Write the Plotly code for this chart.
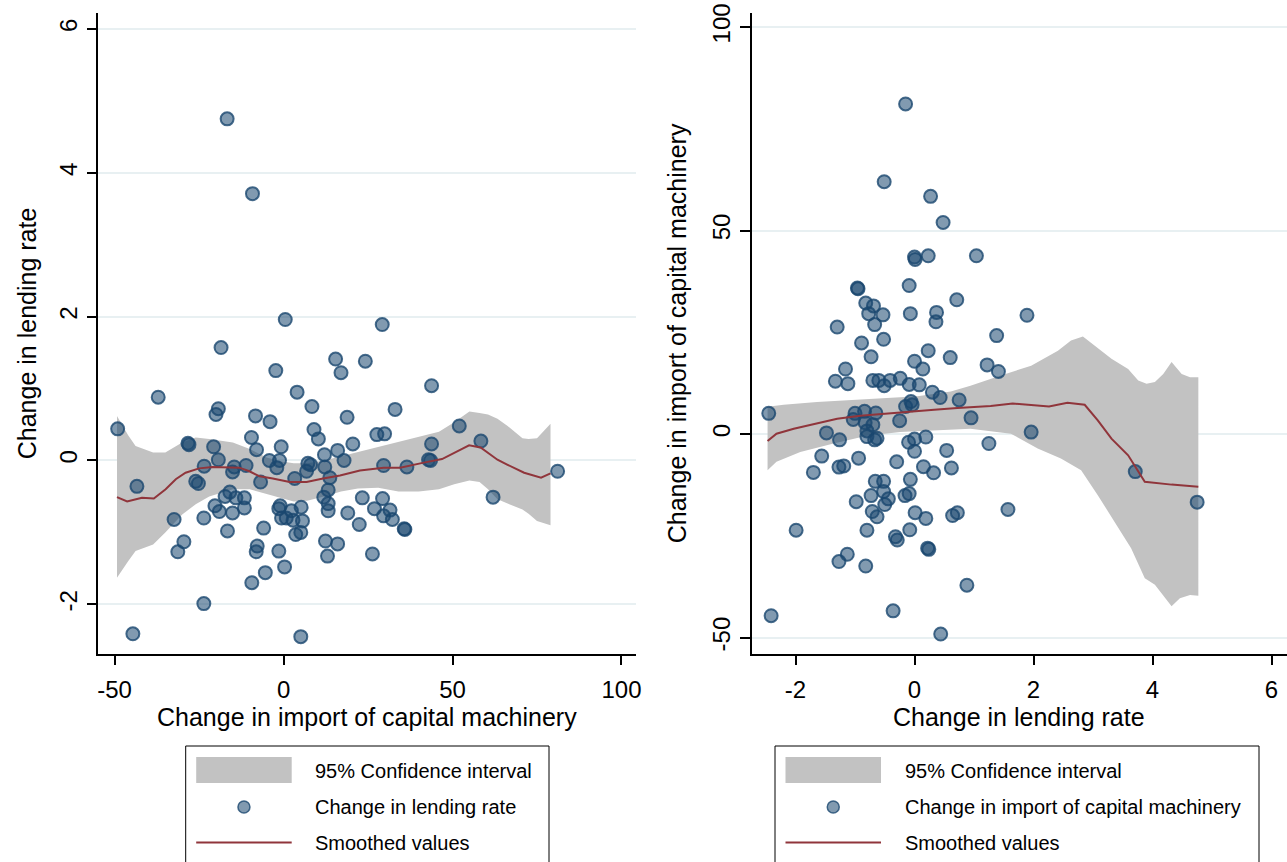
import plotly.graph_objects as go

# ---------------- data ----------------
import_change = [-49.1, -43.4, -44.6, -37.1, -32.4, -31.3, -29.5, -28.3, -28.0, -26.0,
                 -25.2, -23.5, -23.6, -23.6, -20.7, -20.0, -19.3, -19.3, -18.5, -20.3,
                 -19.0, -17.3, -16.6, -16.7, -15.9, -15.1, -14.6, -15.1, -14.1, -11.6,
                 -11.6, -11.1, -9.4, -9.5, -9.2, -8.3, -8.0, -7.8, -8.1, -6.8,
                 -5.9, -5.4, -4.0, -4.2, -2.3, -2.0, -1.2, -1.0, -1.4, -1.4,
                 -0.7, -0.6, 0.5, 0.3, 0.8, 2.3, 2.8, 3.3, 3.6, 4.0,
                 5.1, 5.2, 5.6, 5.1, 6.8, 7.2, 8.0, 8.4, 9.0, 10.3,
                 11.9, 12.1, 12.2, 12.4, 13.0, 13.2, 13.2, 13.2, 13.7, 15.4,
                 16.0, 16.0, 17.0, 17.9, 18.8, 19.0, 20.5, 22.4, 23.3, 24.2,
                 26.3, 26.9, 27.6, 29.2, 29.3, 29.6, 29.6, 29.9, 31.5, 32.2,
                 33.0, 35.7, 35.9, 36.5, 42.9, 43.5, 43.8, 43.8, 52.0, 58.4,
                 62.0, 81.1]
lending_change = [0.44, -0.36, -2.41, 0.88, -0.82, -1.27, -1.13, 0.24, 0.22, -0.29,
                  -0.32, -0.08, -0.80, -1.99, 0.19, 0.64, 0.72, 0.01, 1.57, -0.63,
                  -0.71, -0.50, -0.98, 4.75, -0.44, -0.73, -0.09, -0.16, -0.52, -0.52,
                  -0.66, -0.07, -1.70, 0.32, 3.71, 0.62, 0.15, -1.19, -1.27, -0.30,
                  -0.94, -1.56, 0.54, 0.00, 1.25, -0.10, 0.00, -0.63, -0.67, -1.26,
                  0.19, -0.80, 1.96, -1.48, -0.80, -0.70, -0.83, -0.25, -1.03, 0.95,
                  -1.00, -0.65, -0.84, -2.45, -0.15, -0.04, -0.06, 0.75, 0.43, 0.30,
                  -0.51, 0.08, -0.09, -1.12, -1.33, -0.41, -0.60, -0.70, -0.24, 1.41,
                  0.14, -1.16, 1.22, 0.00, 0.60, -0.73, 0.23, -0.89, -0.52, 1.38,
                  -1.30, -0.67, 0.36, 1.89, -0.53, -0.07, -0.77, 0.37, -0.69, -0.82,
                  0.71, -0.95, -0.96, -0.09, 0.01, 0.00, 0.23, 1.04, 0.48, 0.27,
                  -0.51, -0.15]

# left panel: smoothed lending rate on import change
smooth_l_x = [-49.3, -46.3, -41.9, -38.4, -34.9, -31.9, -29.0, -25.0, -21.0, -17.1,
              -13.1, -10.1, -7.1, -3.2, 1.8, 6.8, 11.7, 16.7, 22.6, 29.6,
              34.5, 41.5, 46.9, 52.4, 54.9, 58.3, 63.3, 66.3, 71.2, 76.2, 79.0]
smooth_l_y = [-0.51, -0.57, -0.52, -0.53, -0.40, -0.26, -0.17, -0.11, -0.09, -0.09,
              -0.10, -0.15, -0.22, -0.25, -0.30, -0.30, -0.25, -0.21, -0.14, -0.10,
              -0.10, -0.03, 0.02, 0.15, 0.21, 0.18, 0.01, -0.06, -0.17, -0.24, -0.18]
ci_l_x = [-49.3, -46.0, -43.8, -38.6, -35.0, -30.0, -26.0, -22.0, -15.0, -10.0,
          -5.0, -1.0, 3.0, 7.0, 12.0, 17.0, 22.0, 28.0, 34.0, 40.0,
          46.0, 50.5, 55.0, 58.0, 60.5, 63.3, 66.3, 70.7, 72.5, 75.0, 79.0]
ci_l_upper = [0.62, 0.35, 0.20, 0.11, 0.11, 0.25, 0.32, 0.30, 0.25, 0.16,
              0.04, -0.01, -0.04, -0.04, 0.00, 0.06, 0.12, 0.19, 0.26, 0.33,
              0.40, 0.53, 0.68, 0.66, 0.64, 0.58, 0.48, 0.31, 0.30, 0.31, 0.51]
ci_l_lower = [-1.63, -1.40, -1.26, -1.17, -1.00, -0.75, -0.61, -0.50, -0.40, -0.40,
              -0.47, -0.52, -0.57, -0.56, -0.50, -0.43, -0.39, -0.38, -0.43, -0.43,
              -0.40, -0.33, -0.28, -0.30, -0.40, -0.54, -0.60, -0.68, -0.74, -0.84, -0.90]

# right panel: smoothed import change on lending rate
smooth_r_x = [-2.47, -2.32, -2.03, -1.64, -1.30, -0.91, -0.52, -0.12, 0.33, 0.72,
              1.11, 1.28, 1.65, 2.01, 2.26, 2.57, 2.86, 3.08, 3.31, 3.59,
              3.87, 4.32, 4.77]
smooth_r_y = [-1.7, 0.1, 1.3, 2.7, 3.8, 4.5, 5.0, 5.6, 6.0, 6.4,
              6.7, 6.9, 7.5, 7.1, 6.8, 7.7, 7.2, 3.4, -1.1, -5.2,
              -11.7, -12.4, -12.9]
ci_r_upper_x = [-2.47, -2.2, -1.64, -1.08, -0.52, 0.05, 0.61, 0.94, 1.45, 1.96,
                2.41, 2.63, 2.83, 3.31, 3.59, 3.76, 3.90, 4.04, 4.18, 4.32,
                4.49, 4.63, 4.77]
ci_r_upper_y = [6.7, 7.2, 7.9, 8.4, 8.9, 9.3, 10.5, 11.9, 14.4, 16.8,
                20.5, 23.0, 24.0, 18.5, 16.0, 13.2, 12.4, 12.8, 14.8, 17.7,
                14.8, 14.0, 14.0]
ci_r_lower_x = [-2.47, -2.32, -1.92, -1.36, -0.80, -0.24, 0.33, 0.94, 1.62, 2.07,
                2.46, 2.80, 3.08, 3.36, 3.64, 3.87, 4.04, 4.18, 4.32, 4.46,
                4.63, 4.77]
ci_r_lower_y = [-8.9, -6.8, -4.4, -2.3, -0.4, 0.5, 0.9, 1.3, 0.1, -3.5,
                -6.0, -8.9, -15.0, -21.5, -28.0, -35.4, -37.0, -39.5, -42.3, -40.3,
                -39.5, -39.7]

left_x_ticks = [-50, 0, 50, 100]
left_x_labels = ["-50", "0", "50", "100"]
left_y_ticks = [-2, 0, 2, 4, 6]
left_y_labels = ["-2", "0", "2", "4", "6"]
right_x_ticks = [-2, 0, 2, 4, 6]
right_x_labels = ["-2", "0", "2", "4", "6"]
right_y_ticks = [-50, 0, 50, 100]
right_y_labels = ["-50", "0", "50", "100"]

x_title_left = "Change in import of capital machinery"
y_title_left = "Change in lending rate"
x_title_right = "Change in lending rate"
y_title_right = "Change in import of capital machinery"

legend_left = ["95% Confidence interval", "Change in lending rate", "Smoothed values"]
legend_right = ["95% Confidence interval", "Change in import of capital machinery", "Smoothed values"]

# ---------------- styling ----------------
W, H = 1287, 862
FONT = "Liberation Sans, Arial, sans-serif"
CI_COL = "#c2c2c2"
PT_FILL = "rgba(26,71,111,0.55)"
PT_EDGE = "rgba(26,71,111,0.80)"
LINE_COL = "#90353b"
GRID_COL = "#e8f0f2"

# plot-region edges in pixels
L_LEFT, L_RIGHT, L_TOP, L_BOT = 98.4, 636.0, 13.0, 653.5
R_LEFT, R_RIGHT, R_TOP, R_BOT = 751.5, 1287.0, 13.0, 653.5


def fx(p):
    return p / W


def fy(p):
    return 1 - p / H


fig = go.Figure()


def add_panel(xa, ya, bx_u, by_u, bx_l, by_l, sx, sy, px_, py_):
    fig.add_trace(go.Scatter(x=list(bx_u) + list(bx_l)[::-1], y=list(by_u) + list(by_l)[::-1],
                             fill="toself", fillcolor=CI_COL, mode="lines",
                             line=dict(width=0, color=CI_COL), hoverinfo="skip",
                             showlegend=False, xaxis=xa, yaxis=ya))
    fig.add_trace(go.Scatter(x=px_, y=py_, mode="markers",
                             marker=dict(size=13, color=PT_FILL,
                                         line=dict(color=PT_EDGE, width=2)),
                             showlegend=False, xaxis=xa, yaxis=ya))
    fig.add_trace(go.Scatter(x=sx, y=sy, mode="lines",
                             line=dict(color=LINE_COL, width=2),
                             showlegend=False, xaxis=xa, yaxis=ya))


add_panel("x", "y", ci_l_x, ci_l_upper, ci_l_x, ci_l_lower,
          smooth_l_x, smooth_l_y, import_change, lending_change)
add_panel("x2", "y2", ci_r_upper_x, ci_r_upper_y, ci_r_lower_x, ci_r_lower_y,
          smooth_r_x, smooth_r_y, lending_change, import_change)

axis_common = dict(showline=True, linecolor="black", linewidth=1.5,
                   ticks="outside", ticklen=10, tickwidth=1.5, tickcolor="black",
                   zeroline=False, automargin=False,
                   tickfont=dict(family=FONT, size=24, color="black"))

fig.update_layout(
    width=W, height=H,
    margin=dict(l=0, r=0, t=0, b=0, autoexpand=False),
    paper_bgcolor="white", plot_bgcolor="white",
    font=dict(family=FONT, color="black"),
    xaxis=dict(domain=[fx(L_LEFT), fx(L_RIGHT)], range=[-54.8, 104.3],
               tickvals=left_x_ticks, ticktext=left_x_labels,
               showgrid=False, anchor="y", ticklabelstandoff=4, **axis_common),
    yaxis=dict(domain=[fy(L_BOT), fy(L_TOP)], range=[-2.684, 6.222],
               tickvals=left_y_ticks, ticktext=left_y_labels,
               tickangle=-90, showgrid=True, gridcolor=GRID_COL, gridwidth=1.5, anchor="x",
               **axis_common),
    xaxis2=dict(domain=[fx(R_LEFT), fx(R_RIGHT)], range=[-2.74, 6.26],
                tickvals=right_x_ticks, ticktext=right_x_labels,
                showgrid=False, anchor="y2", ticklabelstandoff=4, **axis_common),
    yaxis2=dict(domain=[fy(R_BOT), fy(R_TOP)], range=[-53.88, 103.44],
                tickvals=right_y_ticks, ticktext=right_y_labels,
                tickangle=-90, showgrid=True, gridcolor=GRID_COL, gridwidth=1.5, anchor="x2",
                **axis_common),
)

shapes = []
annotations = []

# ---------------- axis titles ----------------
TITLE_FONT = dict(family=FONT, size=25, color="black")
for txt, x, y, ang in [
    (x_title_left, (L_LEFT + L_RIGHT) / 2, 717, 0),
    (x_title_right, (R_LEFT + R_RIGHT) / 2, 717, 0),
    (y_title_left, 27, (L_TOP + L_BOT) / 2, -90),
    (y_title_right, 677, (R_TOP + R_BOT) / 2, -90),
]:
    annotations.append(dict(text=txt, xref="paper", yref="paper", x=fx(x), y=fy(y),
                            xanchor="center", yanchor="middle", textangle=ang,
                            showarrow=False, font=TITLE_FONT))


# ---------------- legends (drawn as boxes with keys) ----------------
def add_legend(box_l, box_r, labels):
    top = 746
    shapes.append(dict(type="rect", xref="paper", yref="paper",
                       x0=fx(box_l), x1=fx(box_r), y0=fy(top), y1=fy(880),
                       line=dict(color="black", width=1), fillcolor="white", layer="above"))
    kx0, kx1 = box_l + 10.5, box_l + 106
    shapes.append(dict(type="rect", xref="paper", yref="paper",
                       x0=fx(kx0), x1=fx(kx1), y0=fy(783), y1=fy(757),
                       line=dict(width=0), fillcolor=CI_COL, layer="above"))
    cx, cy, r = (kx0 + kx1) / 2, 807, 6
    shapes.append(dict(type="circle", xref="paper", yref="paper",
                       x0=fx(cx - r), x1=fx(cx + r), y0=fy(cy + r), y1=fy(cy - r),
                       line=dict(color=PT_EDGE, width=1.5), fillcolor=PT_FILL, layer="above"))
    shapes.append(dict(type="line", xref="paper", yref="paper",
                       x0=fx(kx0), x1=fx(kx1), y0=fy(842.5), y1=fy(842.5),
                       line=dict(color=LINE_COL, width=2), layer="above"))
    for lab, yy in zip(labels, [771, 807, 843]):
        annotations.append(dict(text=lab, xref="paper", yref="paper",
                                x=fx(box_l + 127.5), y=fy(yy), xanchor="left", yanchor="middle",
                                showarrow=False, font=dict(family=FONT, size=20, color="black")))


add_legend(185.7, 549, legend_left)
add_legend(775, 1259, legend_right)

fig.update_layout(shapes=shapes, annotations=annotations)

fig.write_html("out.html")
